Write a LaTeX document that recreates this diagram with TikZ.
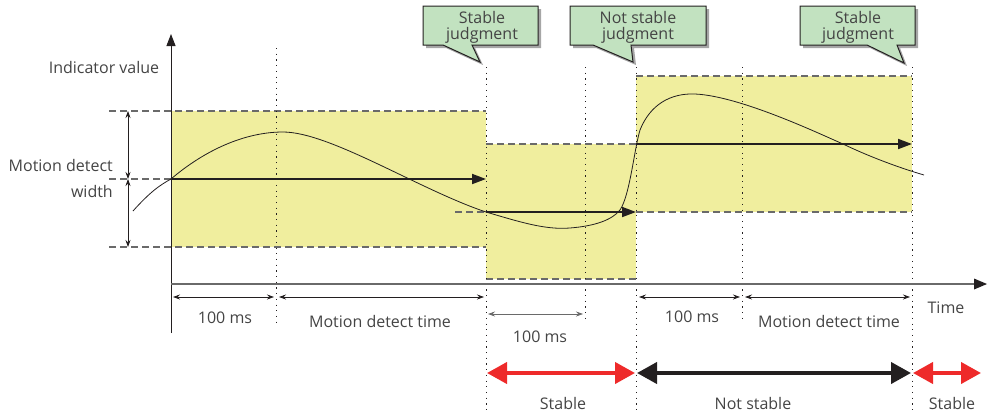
\documentclass[tikz,border=0pt]{standalone}
\usepackage{fontspec}
\setmainfont{Open Sans}
\usetikzlibrary{arrows.meta}
\definecolor{txt}{HTML}{444444}
\definecolor{yel}{HTML}{F0EE9E}
\definecolor{grn}{HTML}{C2E2C0}
\definecolor{myred}{HTML}{EE2A2A}
\definecolor{myblk}{HTML}{231F20}
\definecolor{dgray}{HTML}{6A6A6A}
\tikzset{
  lbl/.style={text=txt, font=\fontsize{16}{18}\selectfont, inner sep=0pt},
  clbl/.style={text=txt, font=\fontsize{16}{17}\selectfont, inner sep=0pt},
  dashln/.style={draw=dgray, dash pattern=on 7pt off 4pt, line width=1.1pt},
  dotln/.style={draw=myblk, dash pattern=on 1.2pt off 4.5pt, line width=0.9pt},
  dimarrow/.style={myblk, line width=0.7pt, {Stealth[length=7pt,width=5pt]}-{Stealth[length=7pt,width=5pt]}},
  bigarrow/.style={line width=4pt, {Triangle[length=20pt,width=21pt]}-{Triangle[length=20pt,width=21pt]}},
  valarrow/.style={myblk, line width=1.8pt, -{Triangle[length=14pt,width=10pt]}},
  callout/.style={fill=grn, draw=myblk, line width=1pt},
  calloutshadow/.style={fill=gray!70},
}
\begin{document}
\begin{tikzpicture}[x=1pt,y=-1pt]
\useasboundingbox (0,0) rectangle (990,413);
% yellow boxes
\fill[yel] (171,111) rectangle (486,247);
\fill[yel] (486,144) rectangle (636,279);
\fill[yel] (636,76) rectangle (912,212);
% dashed borders
\draw[dashln] (109,111) -- (486,111);
\draw[dashln] (109,179) -- (171,179);
\draw[dashln] (109,247) -- (486,247);
\draw[dashln] (486,144) -- (636,144);
\draw[dashln] (486,279) -- (636,279);
\draw[dashln] (455,212) -- (486,212);
\draw[dashln] (636,76) -- (912,76);
\draw[dashln] (636,212) -- (912,212);
% dotted verticals
\draw[dotln] (276,48) -- (276,322);
\draw[dotln] (486,67) -- (486,413);
\draw[dotln] (585,67) -- (585,322);
\draw[dotln] (636,67) -- (636,413);
\draw[dotln] (742,67) -- (742,322);
\draw[dotln] (912,67) -- (912,413);
% axes
\draw[myblk, line width=1pt, -{Triangle[length=12pt,width=9pt]}] (171,333) -- (171,34);
\draw[dgray, line width=1.2pt] (171,284) -- (975,284);
\fill[myblk] (987,284) -- (974,278.5) -- (974,289.5) -- cycle;
% motion detect width arrows
\draw[dimarrow] (128,111) -- (128,179);
\draw[dimarrow] (128,179) -- (128,247);
% value arrows
\draw[valarrow] (171,179) -- (486,179);
\draw[valarrow] (486,212) -- (636,212);
\draw[valarrow] (636,144) -- (912,144);
% curve
\draw[myblk, line width=0.8pt] (133,211) .. controls (150,192) and (160,185) .. (171,179)
  .. controls (205,150) and (245,132) .. (283,132)
  .. controls (330,132) and (420,190) .. (486,212)
  .. controls (520,222) and (545,230) .. (570,228)
  .. controls (595,226) and (612,220) .. (620,210)
  .. controls (630,195) and (634,150) .. (640,130)
  .. controls (650,105) and (670,93) .. (695,94)
  .. controls (740,96) and (820,134) .. (843,144)
  .. controls (870,157) and (900,168) .. (924,175);
% dimension arrows
\draw[dimarrow] (173,297) -- (274,297);
\draw[dimarrow] (279,297) -- (484,297);
\draw[dimarrow, draw=dgray] (488,314) -- (583,314);
\draw[dimarrow] (639,297) -- (740,297);
\draw[dimarrow] (745,297) -- (910,297);
% big state arrows
\draw[bigarrow, myred] (487,373) -- (635,373);
\draw[bigarrow, myblk] (637,373) -- (911,373);
\draw[bigarrow, myred] (913,373) -- (981,373);
% callouts
\fill[calloutshadow] (426,9) -- (541,9) -- (541,48) -- (475,48) -- (483,65) -- (446,48) -- (426,48) -- cycle;
\draw[callout] (423,6) -- (538,6) -- (538,45) -- (472,45) -- (480,62) -- (443,45) -- (423,45) -- cycle;
\fill[calloutshadow] (573,9) -- (709,9) -- (709,48) -- (634,48) -- (636,65) -- (596,48) -- (573,48) -- cycle;
\draw[callout] (570,6) -- (706,6) -- (706,45) -- (631,45) -- (633,62) -- (593,45) -- (570,45) -- cycle;
\fill[calloutshadow] (803,9) -- (918,9) -- (918,48) -- (900,48) -- (907,66) -- (870,48) -- (803,48) -- cycle;
\draw[callout] (800,6) -- (915,6) -- (915,45) -- (897,45) -- (904,63) -- (867,45) -- (800,45) -- cycle;
\node[clbl, anchor=base] (c1a) at (482,23) {Stable};
\node[clbl, anchor=base] (c1b) at (482,39) {judgment};
\node[clbl, anchor=base] (c2a) at (638,23) {Not stable};
\node[clbl, anchor=base] (c2b) at (638,39) {judgment};
\node[clbl, anchor=base] (c3a) at (858,23) {Stable};
\node[clbl, anchor=base] (c3b) at (858,39) {judgment};
% labels
\node[lbl] (iv) at (104,67) {Indicator value};
\node[lbl, anchor=east] (md) at (113,165) {Motion detect};
\node[lbl, anchor=east] (mw) at (113,191) {width};
\node[lbl] (t1) at (225,318) {100 ms};
\node[lbl] (t2) at (380,321) {Motion detect time};
\node[lbl] (t3) at (540,337) {100 ms};
\node[lbl] (t4) at (692,317) {100 ms};
\node[lbl] (t5) at (829,321) {Motion detect time};
\node[lbl] (tm) at (946,308) {Time};
\node[lbl] (s1) at (563,403) {Stable};
\node[lbl] (s2) at (753,403) {Not stable};
\node[lbl] (s3) at (952,403) {Stable};
\end{tikzpicture}
\end{document}
